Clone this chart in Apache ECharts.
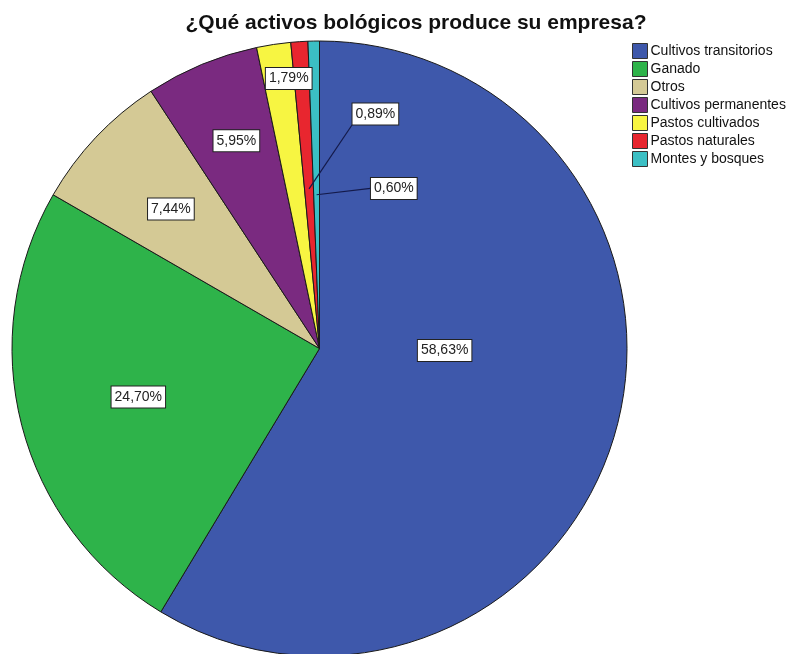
<!DOCTYPE html>
<html>
<head>
<meta charset="utf-8">
<script src="https://cdn.jsdelivr.net/npm/echarts@6/dist/echarts.min.js"></script>
<style>
  html, body { margin: 0; padding: 0; background: #fff; }
  #chart { width: 792px; height: 654px; }
</style>
</head>
<body>
<div id="chart"></div>
<script>
// Categories and their shares (percent of companies)
const categories = [
  'Cultivos transitorios',
  'Ganado',
  'Otros',
  'Cultivos permanentes',
  'Pastos cultivados',
  'Pastos naturales',
  'Montes y bosques'
];
const shares = [58.63, 24.70, 7.44, 5.95, 1.79, 0.89, 0.60];
const sliceColors = ['#3e58ab', '#2eb34a', '#d4c995', '#7a2a80', '#f7f542', '#e8262f', '#3bbfc4'];

// Pie geometry (pixels)
const CX = 319.5, CY = 348.5, R = 307.5;

// Label placement in polar form: [angle clockwise from 12 o'clock in degrees, fraction of radius]
const labelSpots = [[90.9, 0.407], [255.0, 0.61], [313.2, 0.663], [338.2, 0.728], [353.5, 0.884], [13.4, 0.784], [24.9, 0.574]];
// Slices whose label sits away from the slice and is tied to it by a leader line:
// [fraction of radius where the line starts, fraction of the box half-height it may aim at]
const leaderFrom = { 5: [0.52, 1], 6: [0.5, 0] };

const LABEL_FONT = '14px "Liberation Sans"';
const LABEL_PAD = [3, 3, 2, 3];
const LABEL_LINE_H = 16;

const total = shares.reduce((a, b) => a + b, 0);
const midAngles = [];
let acc = 0;
shares.forEach(v => {
  midAngles.push((acc + v / 2) / total * 360);
  acc += v;
});

function polar(angleDeg, frac) {
  const t = angleDeg * Math.PI / 180;
  return [CX + Math.sin(t) * frac * R, CY - Math.cos(t) * frac * R];
}

const fmt = v => v.toFixed(2).replace('.', ',') + '%';

// Leader lines run from inside the slice to the near edge of its label box
const measureCtx = document.createElement('canvas').getContext('2d');
measureCtx.font = LABEL_FONT;
const leaderLines = Object.keys(leaderFrom).map(k => {
  const i = +k;
  const pos = polar(labelSpots[i][0], labelSpots[i][1]);
  const w = measureCtx.measureText(fmt(shares[i])).width + LABEL_PAD[1] + LABEL_PAD[3] + 1;
  const h = LABEL_LINE_H + LABEL_PAD[0] + LABEL_PAD[2] + 1;
  const start = polar(midAngles[i], leaderFrom[i][0]);
  const reach = leaderFrom[i][1] * h / 2;
  const end = [
    Math.min(Math.max(start[0], pos[0] - w / 2), pos[0] + w / 2),
    Math.min(Math.max(start[1], pos[1] - reach), pos[1] + reach)
  ];
  return {
    type: 'polyline',
    z: 100,
    silent: true,
    shape: { points: [start, end] },
    style: { stroke: '#141a4a', lineWidth: 1.2, fill: null }
  };
});

const chart = echarts.init(document.getElementById('chart'), null, { renderer: 'canvas' });

chart.setOption({
  animation: false,
  backgroundColor: '#ffffff',
  title: {
    text: '¿Qué activos bológicos produce su empresa?',
    left: 411,
    top: 8,
    textAlign: 'center',
    textStyle: {
      fontFamily: 'Liberation Sans',
      fontWeight: 'bold',
      fontSize: 21,
      color: '#111'
    }
  },
  legend: {
    orient: 'vertical',
    left: 632,
    top: 43,
    padding: 0,
    itemWidth: 15,
    itemHeight: 15,
    itemGap: 2,
    icon: 'rect',
    data: categories,
    itemStyle: { borderColor: '#333', borderWidth: 1 },
    textStyle: {
      fontFamily: 'Liberation Sans',
      fontSize: 14,
      color: '#111',
      padding: [0, 0, 0, -2]
    }
  },
  graphic: leaderLines,
  series: [{
    type: 'pie',
    center: [CX, CY],
    radius: R,
    startAngle: 90,
    clockwise: true,
    avoidLabelOverlap: false,
    silent: true,
    emphasis: { disabled: true, scale: false },
    itemStyle: { borderColor: '#1a1a1a', borderWidth: 1 },
    label: {
      show: true,
      position: 'outside',
      overflow: 'none',
      formatter: p => fmt(p.value),
      fontFamily: 'Liberation Sans',
      fontSize: 14,
      lineHeight: LABEL_LINE_H,
      color: '#222',
      backgroundColor: '#ffffff',
      borderColor: '#222',
      borderWidth: 1,
      padding: LABEL_PAD
    },
    labelLine: { show: false },
    labelLayout: function (params) {
      const spot = labelSpots[params.dataIndex];
      const pos = polar(spot[0], spot[1]);
      return { x: pos[0], y: pos[1], align: 'center', verticalAlign: 'middle' };
    },
    data: categories.map((name, i) => ({
      name: name,
      value: shares[i],
      itemStyle: { color: sliceColors[i] }
    }))
  }]
});
</script>
</body>
</html>
